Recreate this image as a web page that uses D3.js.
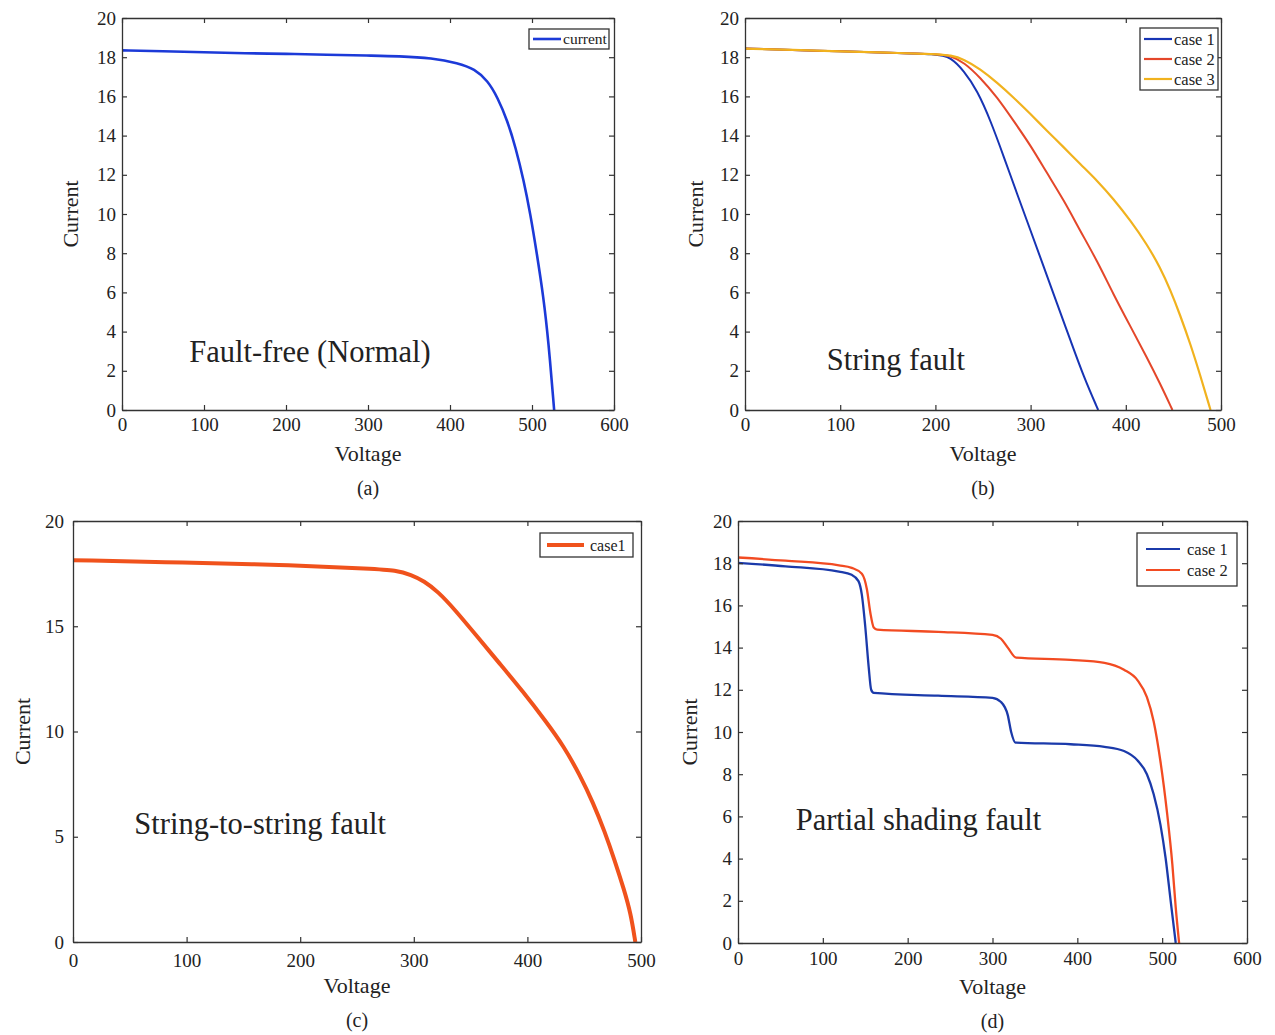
<!DOCTYPE html>
<html>
<head>
<meta charset="utf-8">
<script src="https://cdn.jsdelivr.net/npm/d3@7"></script>
<style>
  body { margin: 0; background: #fff; }
  svg text { font-family: "Liberation Serif", "Times New Roman", serif; fill: #222; }
</style>
</head>
<body>
<div id="chart"></div>
<script>
// (a) fault-free curve
var normalVoltage = [0, 50, 100, 150, 200, 250, 300, 338, 378, 410, 430, 446, 458, 470, 480, 490, 498, 506, 514, 520, 527];
var normalCurrent = [18.35, 18.3, 18.25, 18.2, 18.17, 18.13, 18.08, 18.05, 17.96, 17.7, 17.4, 16.8, 15.95, 14.76, 13.4, 11.7, 10.0, 7.96, 5.75, 3.54, 0];

// (b) string fault, three cases
var stringV1 = [0, 50, 100, 150, 202, 216, 230, 244, 258, 272, 286, 300, 314, 328, 342, 356, 371];
var stringI1 = [18.44, 18.37, 18.3, 18.23, 18.16, 18.0, 17.3, 16.3, 14.76, 12.9, 11.0, 9.15, 7.28, 5.4, 3.54, 1.67, 0];
var stringV2 = [0, 50, 100, 150, 202, 216, 230, 247, 265, 282, 300, 317, 335, 352, 370, 387, 405, 422, 436, 449];
var stringI2 = [18.44, 18.37, 18.3, 18.23, 18.16, 18.08, 17.74, 16.97, 15.95, 14.76, 13.5, 12.1, 10.7, 9.15, 7.6, 5.9, 4.25, 2.7, 1.35, 0];
var stringV3 = [0, 50, 100, 150, 202, 216, 230, 247, 265, 282, 300, 317, 335, 352, 370, 387, 405, 422, 436, 447, 457, 468, 478, 489];
var stringI3 = [18.44, 18.37, 18.3, 18.23, 18.16, 18.1, 17.9, 17.4, 16.7, 15.95, 15.1, 14.25, 13.4, 12.55, 11.7, 10.77, 9.66, 8.47, 7.28, 6.1, 4.85, 3.35, 1.8, 0];

// (c) string-to-string fault
var s2sVoltage = [0, 100, 180, 268, 283, 298, 309, 321, 336, 356, 376, 396, 416, 432, 446, 458, 468, 477, 485, 491, 495];
var s2sCurrent = [18.14, 18.02, 17.93, 17.72, 17.66, 17.45, 17.14, 16.66, 15.8, 14.5, 13.2, 11.9, 10.5, 9.3, 7.95, 6.6, 5.25, 3.85, 2.5, 1.35, 0];

// (d) partial shading, two cases
var shadeV1 = [0, 56, 119, 134, 142, 146, 150, 154, 157, 160, 236, 300, 310, 318, 322, 327, 392, 432, 455, 471, 482, 490, 498, 504, 510, 516];
var shadeI1 = [18.02, 17.85, 17.6, 17.45, 17.15, 16.5, 15.0, 13.1, 12.0, 11.85, 11.72, 11.62, 11.42, 10.8, 10.0, 9.5, 9.42, 9.3, 9.1, 8.65, 8.0, 7.05, 5.6, 4.04, 2.0, 0];
var shadeV2 = [0, 56, 119, 134, 146, 152, 156, 160, 164, 236, 300, 310, 318, 328, 392, 432, 455, 471, 482, 490, 498, 506, 512, 516, 520];
var shadeI2 = [18.27, 18.12, 17.9, 17.78, 17.5, 16.75, 15.65, 14.95, 14.85, 14.75, 14.6, 14.42, 14.0, 13.52, 13.42, 13.28, 12.95, 12.45, 11.65, 10.5, 8.6, 6.08, 3.73, 1.68, 0];

var panels = [
  { left: 122, top: 18, width: 492, height: 392, xMax: 600, xTicks: [0,100,200,300,400,500,600],
    yTicks: [0,2,4,6,8,10,12,14,16,18,20], yPad: 6, xPad: 8, tag: "(a)", tagY: 488, vlabelY: 453, clabelX: 70,
    note: "Fault-free (Normal)", noteAt: [82, 2.45], curve: d3.curveBasis,
    series: [{ name: "current", v: normalVoltage, i: normalCurrent, color: "#1c3ad8", w: 2.6 }],
    legend: { x: 529, y: 29, w: 80, h: 20, lineX: [533, 561], textX: 563, rowH: 20, size: 15.5, lw: 2.6 } },
  { left: 745, top: 18, width: 476, height: 392, xMax: 500, xTicks: [0,100,200,300,400,500],
    yTicks: [0,2,4,6,8,10,12,14,16,18,20], yPad: 6, xPad: 8, tag: "(b)", tagY: 488, vlabelY: 453, clabelX: 695,
    note: "String fault", noteAt: [86, 2.05], curve: d3.curveBasis,
    series: [
      { name: "case 1", v: stringV1, i: stringI1, color: "#1734b4", w: 2 },
      { name: "case 2", v: stringV2, i: stringI2, color: "#e4472a", w: 2 },
      { name: "case 3", v: stringV3, i: stringI3, color: "#f1b21e", w: 2.2 }],
    legend: { x: 1140, y: 28, w: 78, h: 62, lineX: [1144, 1172], textX: 1174, rowH: 20, size: 16.5, lw: 2.2 } },
  { left: 73, top: 521, width: 568, height: 421, xMax: 500, xTicks: [0,100,200,300,400,500],
    yTicks: [0,5,10,15,20], yPad: 9, xPad: 12, tag: "(c)", tagY: 1020, vlabelY: 985, clabelX: 22,
    note: "String-to-string fault", noteAt: [54, 5.13], curve: d3.curveBasis,
    series: [{ name: "case1", v: s2sVoltage, i: s2sCurrent, color: "#f0521c", w: 4 }],
    legend: { x: 540, y: 533, w: 93, h: 24, lineX: [547, 584], textX: 590, rowH: 24, size: 16, lw: 4 } },
  { left: 738, top: 521, width: 509, height: 422, xMax: 600, xTicks: [0,100,200,300,400,500,600],
    yTicks: [0,2,4,6,8,10,12,14,16,18,20], yPad: 6, xPad: 9, tag: "(d)", tagY: 1021, vlabelY: 986, clabelX: 689,
    note: "Partial shading fault", noteAt: [68, 5.36], curve: d3.curveMonotoneX,
    series: [
      { name: "case 1", v: shadeV1, i: shadeI1, color: "#1b3aaa", w: 2.3 },
      { name: "case 2", v: shadeV2, i: shadeI2, color: "#f24b22", w: 2.3 }],
    legend: { x: 1137, y: 533, w: 100, h: 53, lineX: [1146, 1180], textX: 1187, rowH: 21, size: 16.5, lw: 2 } }
];

var svg = d3.select("#chart").append("svg")
  .attr("width", 1275)
  .attr("height", 1035);

panels.forEach(function(p) {
  var x = d3.scaleLinear().domain([0, p.xMax]).range([0, p.width]);
  var y = d3.scaleLinear().domain([0, 20]).range([p.height, 0]);

  var g = svg.append("g")
    .attr("transform", "translate(" + p.left + "," + p.top + ")");

  // the curves
  var line = d3.line()
    .x(function(d) { return x(d[0]); })
    .y(function(d) { return y(d[1]); })
    .curve(p.curve);

  p.series.forEach(function(s) {
    g.append("path")
      .datum(s.v.map(function(v, k) { return [v, s.i[k]]; }))
      .attr("fill", "none")
      .attr("stroke", s.color)
      .attr("stroke-width", s.w)
      .attr("stroke-linejoin", "round")
      .attr("d", line);
  });

  // matlab-style box with inward ticks on all four sides
  var bottom = g.append("g").attr("transform", "translate(0," + p.height + ")")
    .call(d3.axisBottom(x).tickValues(p.xTicks).tickSizeInner(-5).tickSizeOuter(0).tickPadding(p.xPad));
  var top = g.append("g")
    .call(d3.axisTop(x).tickValues(p.xTicks).tickSizeInner(-5).tickSizeOuter(0).tickFormat(""));
  var left = g.append("g")
    .call(d3.axisLeft(y).tickValues(p.yTicks).tickSizeInner(-5).tickSizeOuter(0).tickPadding(p.yPad));
  var right = g.append("g").attr("transform", "translate(" + p.width + ",0)")
    .call(d3.axisRight(y).tickValues(p.yTicks).tickSizeInner(-5).tickSizeOuter(0).tickFormat(""));

  [bottom, top, left, right].forEach(function(a) {
    a.select(".domain").attr("stroke", "#333").attr("stroke-width", 1.3);
    a.selectAll(".tick line").attr("stroke", "#333").attr("stroke-width", 1.2);
    a.selectAll(".tick text")
      .style("font-family", "Liberation Serif")
      .style("font-size", "19px")
      .attr("fill", "#222");
  });

  // axis titles
  svg.append("text")
    .attr("x", p.left + p.width / 2)
    .attr("y", p.vlabelY + 8)
    .attr("text-anchor", "middle")
    .style("font-size", "22px")
    .text("Voltage");

  svg.append("text")
    .attr("transform", "translate(" + (p.clabelX + 8) + "," + (p.top + p.height / 2) + ") rotate(-90)")
    .attr("text-anchor", "middle")
    .style("font-size", "22px")
    .text("Current");

  svg.append("text")
    .attr("x", p.left + p.width / 2)
    .attr("y", p.tagY + 7)
    .attr("text-anchor", "middle")
    .style("font-size", "20px")
    .text(p.tag);

  // annotation inside the plot
  g.append("text")
    .attr("x", x(p.noteAt[0]))
    .attr("y", y(p.noteAt[1]))
    .style("font-size", "30.5px")
    .text(p.note);

  // legend
  var lg = p.legend;
  svg.append("rect")
    .attr("x", lg.x).attr("y", lg.y)
    .attr("width", lg.w).attr("height", lg.h)
    .attr("fill", "#fff")
    .attr("stroke", "#333")
    .attr("stroke-width", 1.3);

  p.series.forEach(function(s, k) {
    var cy = lg.y + (lg.h - lg.rowH * p.series.length) / 2 + lg.rowH * (k + 0.5);
    svg.append("line")
      .attr("x1", lg.lineX[0]).attr("x2", lg.lineX[1])
      .attr("y1", cy).attr("y2", cy)
      .attr("stroke", s.color)
      .attr("stroke-width", lg.lw);
    svg.append("text")
      .attr("x", lg.textX)
      .attr("y", cy)
      .attr("dy", "0.35em")
      .style("font-size", lg.size + "px")
      .text(s.name);
  });
});
</script>
</body>
</html>
